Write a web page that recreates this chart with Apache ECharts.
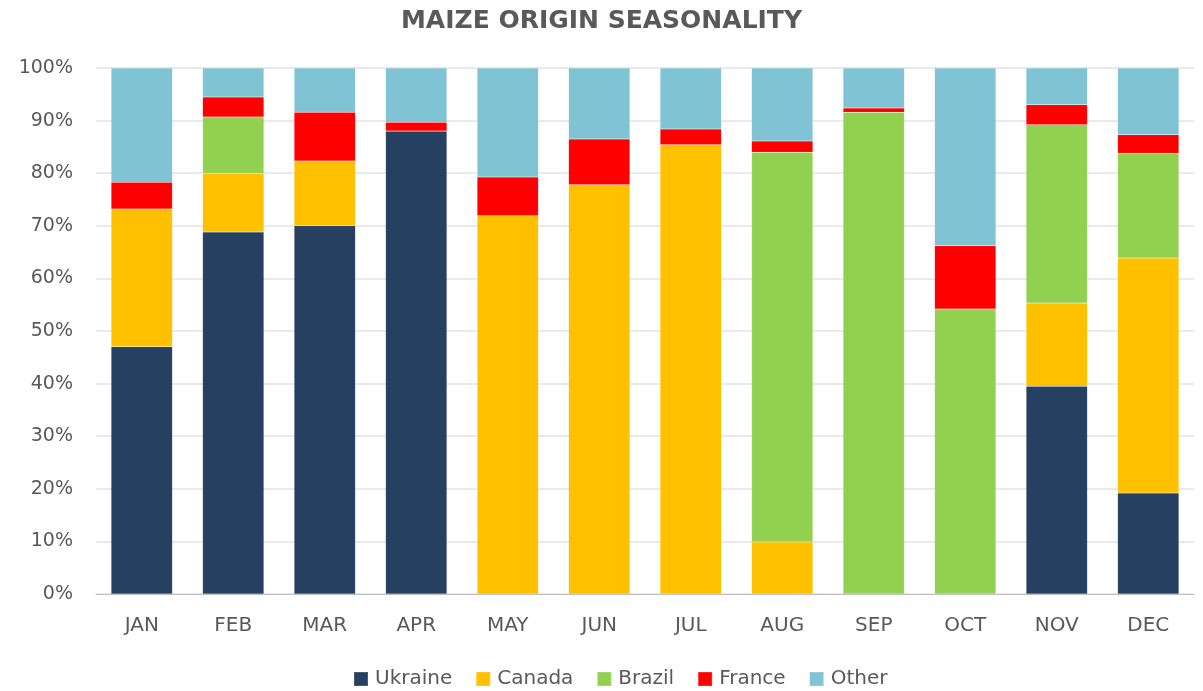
<!DOCTYPE html>
<html>
<head>
<meta charset="utf-8">
<script src="https://cdn.jsdelivr.net/npm/echarts@6/dist/echarts.min.js"></script>
<style>
  html, body { margin: 0; padding: 0; background: #fff; }
  #main { width: 1203px; height: 691px; }
</style>
</head>
<body>
<div id="main"></div>
<script>
var months = ['JAN', 'FEB', 'MAR', 'APR', 'MAY', 'JUN', 'JUL', 'AUG', 'SEP', 'OCT', 'NOV', 'DEC'];
var ukraine = [47.0, 68.8, 70.0, 88.0, 0, 0, 0, 0, 0, 0, 39.5, 19.2];
var canada  = [26.2, 11.2, 12.3, 0, 71.9, 77.8, 85.4, 9.9, 0, 0, 15.8, 44.7];
var brazil  = [0, 10.7, 0, 0, 0, 0, 0, 74.1, 91.6, 54.2, 33.9, 19.9];
var france  = [5.1, 3.8, 9.3, 1.7, 7.4, 8.7, 3.0, 2.1, 0.8, 12.0, 3.8, 3.5];
var other   = [21.7, 5.5, 8.4, 10.3, 20.7, 13.5, 11.6, 13.9, 7.6, 33.8, 7.0, 12.7];

var myChart = echarts.init(document.getElementById('main'));

function mkSeries(name, data, color) {
  return {
    name: name,
    type: 'bar',
    stack: 'total',
    barCategoryGap: '33%',
    data: data,
    itemStyle: {
      color: color,
      borderColor: 'rgba(255,255,255,0.15)',
      borderWidth: 0.5
    }
  };
}

var option = {
  animation: false,
  title: {
    text: 'MAIZE ORIGIN SEASONALITY',
    left: 'center',
    top: 4,
    textStyle: {
      color: '#595959',
      fontSize: 25,
      fontWeight: 'bold',
      fontFamily: 'DejaVu Sans'
    }
  },
  legend: {
    top: 664,
    left: 348,
    itemWidth: 14,
    itemHeight: 14,
    itemGap: 23,
    icon: 'rect',
    textStyle: {
      color: '#595959',
      fontSize: 20,
      fontFamily: 'DejaVu Sans',
      padding: [0, 0, 0, 2]
    },
    data: ['Ukraine', 'Canada', 'Brazil', 'France', 'Other']
  },
  grid: {
    left: 96,
    right: 9,
    top: 68,
    bottom: 97
  },
  xAxis: {
    type: 'category',
    data: months,
    axisTick: { show: false },
    axisLine: { lineStyle: { color: '#bfbfbf', width: 1 } },
    axisLabel: {
      color: '#595959',
      fontSize: 20,
      margin: 22,
      fontFamily: 'DejaVu Sans'
    }
  },
  yAxis: {
    type: 'value',
    min: 0,
    max: 100,
    interval: 10,
    axisLine: { show: false },
    axisTick: { show: false },
    splitLine: { lineStyle: { color: '#e3e3e3', width: 1.5 } },
    axisLabel: {
      color: '#595959',
      fontSize: 19,
      margin: 23,
      fontFamily: 'DejaVu Sans',
      formatter: '{value}%'
    }
  },
  series: [
    mkSeries('Ukraine', ukraine, '#264061'),
    mkSeries('Canada', canada, '#ffc000'),
    mkSeries('Brazil', brazil, '#92d050'),
    mkSeries('France', france, '#ff0000'),
    mkSeries('Other', other, '#7fc3d5')
  ]
};

myChart.setOption(option);
</script>
</body>
</html>
